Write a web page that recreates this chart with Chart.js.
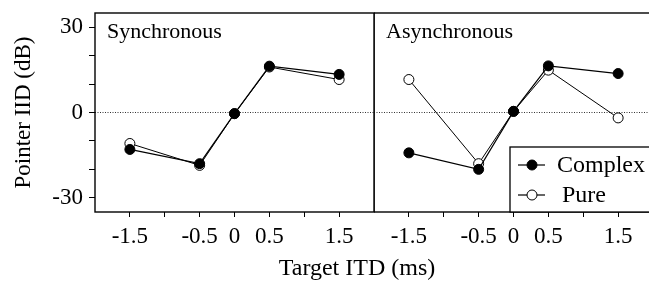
<!DOCTYPE html>
<html><head><meta charset="utf-8">
<script src="https://cdn.jsdelivr.net/npm/chart.js@4"></script>
<style>
html,body{margin:0;padding:0;background:#fff;overflow:hidden;width:649px;height:281px;}
#wrap{position:relative;width:649px;height:281px;overflow:hidden;background:#fff;}
#c1{position:absolute;left:0;top:0;}
#c2{position:absolute;left:374px;top:0;}
#xt{position:absolute;left:0;width:714px;top:254px;height:26px;line-height:26px;text-align:center;font-family:'Liberation Serif';font-size:24px;color:#000;white-space:nowrap;}
</style></head>
<body><div id="wrap"><canvas id="c1" width="376" height="281"></canvas><canvas id="c2" width="289" height="281"></canvas><div id="xt">Target ITD (ms)</div></div>
<script>
// ---- data ----
const xValues = [-1.5, -0.5, 0, 0.5, 1.5];
const syncComplex = [-13.0, -18.0, -0.4, 16.3, 13.4];
const syncPure = [-10.9, -18.6, -0.4, 16.0, 11.6];
const asyncComplex = [-14.2, -20.0, 0.4, 16.4, 13.7];
const asyncPure = [11.6, -18.0, 0.4, 14.9, -1.9];
const xTickValues = [-1.5, -1, -0.5, 0, 0.5, 1, 1.5];
const xTickLabels = ['-1.5', '', '-0.5', '0', '0.5', '', '1.5'];
const yTickValues = [-30, -20, -10, 0, 10, 20, 30];
const yTickLabels = ['-30', '', '', '0', '', '', '30'];
const panelTitles = ['Synchronous', 'Asynchronous'];
const seriesNames = ['Complex', 'Pure'];
const yTitle = 'Pointer IID (dB)';

const FONT = 'Liberation Serif';

function toPoints(vals) { return xValues.map((x, i) => ({x: x, y: vals[i]})); }

function panelPlugin(title, showLegend) {
  return {
    id: 'panel',
    beforeDatasetsDraw(chart) {
      const {ctx, chartArea: a, scales} = chart;
      ctx.save();
      // dotted zero line
      const y0 = scales.y.getPixelForValue(0);
      ctx.strokeStyle = '#333';
      ctx.lineWidth = 1;
      ctx.setLineDash([1, 1.5]);
      ctx.beginPath(); ctx.moveTo(a.left, y0); ctx.lineTo(a.right, y0); ctx.stroke();
      ctx.setLineDash([]);
      // frame
      ctx.strokeStyle = '#000';
      ctx.lineWidth = 1.4;
      ctx.strokeRect(a.left, a.top, a.right - a.left, a.bottom - a.top);
      // panel title
      ctx.fillStyle = '#000';
      ctx.font = '22px "' + FONT + '"';
      ctx.textBaseline = 'alphabetic';
      ctx.textAlign = 'left';
      ctx.fillText(title, a.left + 12, 38);
      ctx.restore();
    },
    afterDatasetsDraw(chart) {
      if (!showLegend) return;
      const {ctx, chartArea: a} = chart;
      const bx = a.left + 136, by = 147;
      ctx.save();
      ctx.fillStyle = '#fff';
      ctx.fillRect(bx, by, a.right + 20 - bx, a.bottom - by);
      ctx.strokeStyle = '#000';
      ctx.lineWidth = 1.3;
      ctx.strokeRect(bx, by, a.right + 20 - bx, a.bottom - by);
      const rows = [{y: 165, fill: '#000', tx: 47}, {y: 195, fill: '#fff', tx: 52}];
      rows.forEach((r, i) => {
        ctx.strokeStyle = '#000';
        ctx.lineWidth = 1.2;
        ctx.beginPath(); ctx.moveTo(bx + 8, r.y); ctx.lineTo(bx + 35, r.y); ctx.stroke();
        ctx.beginPath(); ctx.arc(bx + 22, r.y, 5, 0, Math.PI * 2);
        ctx.fillStyle = r.fill; ctx.fill();
        ctx.lineWidth = 1; ctx.stroke();
        ctx.fillStyle = '#000';
        ctx.font = '24px "' + FONT + '"';
        ctx.textBaseline = 'middle';
        ctx.textAlign = 'left';
        ctx.fillText(seriesNames[i], bx + r.tx, r.y + 1);
      });
      ctx.restore();
    }
  };
}

function makeChart(id, complex, pure, title, showY, showLegend, padRight) {
  return new Chart(document.getElementById(id), {
    type: 'line',
    data: {
      datasets: [
        {label: seriesNames[0], data: toPoints(complex), borderColor: '#000', backgroundColor: '#000',
         pointBackgroundColor: '#000', pointBorderColor: '#000', pointRadius: 5, pointBorderWidth: 1, borderWidth: 1.2, tension: 0},
        {label: seriesNames[1], data: toPoints(pure), borderColor: '#000', backgroundColor: '#fff',
         pointBackgroundColor: '#fff', pointBorderColor: '#000', pointRadius: 5, pointBorderWidth: 1, borderWidth: 1.0, tension: 0}
      ]
    },
    options: {
      responsive: false,
      animation: false,
      devicePixelRatio: 1,
      layout: {autoPadding: false, padding: {top: 13, right: padRight, left: 0, bottom: 0}},
      plugins: {legend: {display: false}, tooltip: {enabled: false}, title: {display: false}},
      scales: {
        x: {
          type: 'linear', min: -2, max: 2, position: 'bottom',
          afterBuildTicks: s => { s.ticks = xTickValues.map(v => ({value: v})); },
          afterFit: s => { s.height = 69; s.paddingLeft = 0; s.paddingRight = 0; },
          ticks: {callback: (v, i) => xTickLabels[i], autoSkip: false, maxRotation: 0, color: '#000',
                  padding: 6, font: {family: FONT, size: 23}},
          grid: {drawOnChartArea: false, drawTicks: true, tickLength: 5, color: '#000', lineWidth: 1},
          border: {display: false}
        },
        y: {
          type: 'linear', min: -35, max: 35, display: showY,
          afterBuildTicks: s => { s.ticks = yTickValues.map(v => ({value: v})); },
          afterFit: s => { if (showY) s.width = 95; s.paddingTop = 0; s.paddingBottom = 0; },
          ticks: {callback: (v, i) => yTickLabels[i], autoSkip: false, color: '#000', padding: 6,
                  font: {family: FONT, size: 23}},
          grid: {drawOnChartArea: false, drawTicks: true, tickLength: 6, color: '#000', lineWidth: 1},
          border: {display: false},
          title: {display: true, text: yTitle, color: '#000', font: {family: FONT, size: 23}, padding: {top: 10, bottom: 0}}
        }
      }
    },
    plugins: [panelPlugin(title, showLegend)]
  });
}

makeChart('c1', syncComplex, syncPure, panelTitles[0], true, false, 2);
makeChart('c2', asyncComplex, asyncPure, panelTitles[1], false, true, 10);
</script>
</body></html>
